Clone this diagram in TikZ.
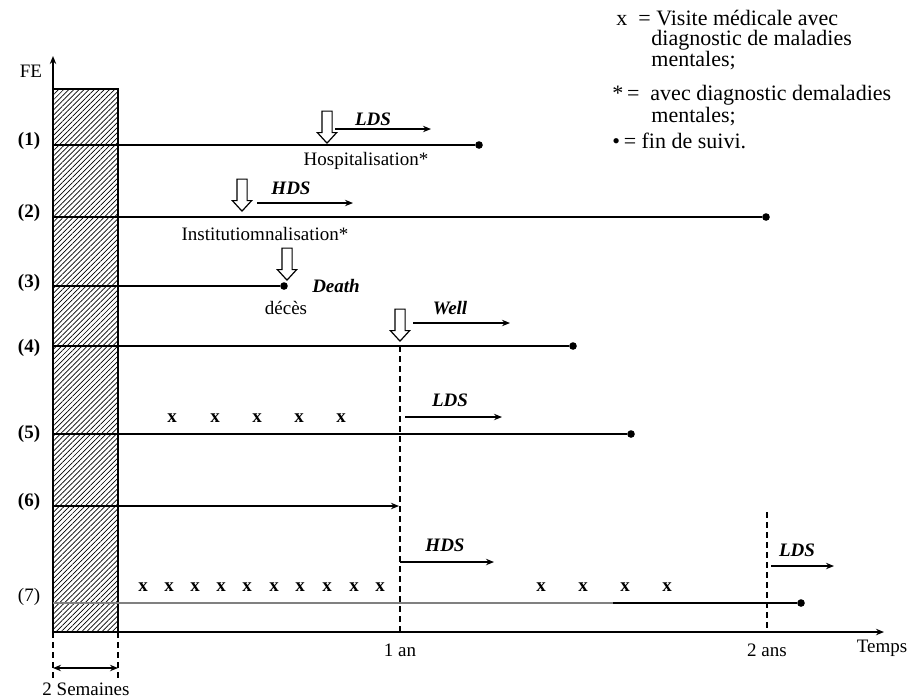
\documentclass[tikz,border=0pt]{standalone}
\usepackage{fontspec}
\setmainfont{Liberation Serif}
\usepackage{tikz}
\usetikzlibrary{arrows.meta, positioning, shapes.arrows, patterns.meta}

\begin{document}
\begin{tikzpicture}[x=0.5pt,y=-0.5pt]
\fontsize{9.5}{11}\selectfont
\tikzset{
  ln/.style={line width=0.7pt,draw=black},
  ar/.style={-{Stealth[length=4pt,width=3.2pt]},line width=0.6pt,draw=black},
  dot/.style={circle,fill=black,inner sep=0pt,minimum size=3.8pt},
  hol/.style={single arrow,draw=black,fill=white,line width=0.6pt,shape border rotate=270,minimum height=16pt,single arrow head extend=2.25pt,single arrow tip angle=85,inner sep=2.25pt},
  dsh/.style={line width=0.6pt,dash pattern=on 3pt off 2pt},
  rl/.style={font=\bfseries,inner sep=0pt},
  st/.style={font=\bfseries\itshape,inner sep=0pt},
  tx/.style={inner sep=0pt},
  xm/.style={font=\bfseries,inner sep=0pt},
  lg/.style={font=\fontsize{11}{12}\selectfont,inner sep=0pt,anchor=west}
}
\useasboundingbox (0,0) rectangle (909,698);

% axes and hatched window
\coordinate (O) at (53,632);
\coordinate (ytop) at (53,56);
\coordinate (xend) at (884,632);
\coordinate (w0) at (118,632);
\draw[ln,pattern={Lines[angle=45,distance=1.8pt,line width=0.35pt]}] (53,89) rectangle (w0);
\draw[ln,-{Stealth[length=4pt,width=3.2pt]}] (O) -- (ytop);
\draw[ln,-{Stealth[length=4pt,width=3.2pt]}] (O) -- (xend);
\node[tx] (fe) at (31,71) {FE};
\node[tx] (temps) at (882,648) {Temps};
\node[tx] (an1) at (400,650) {1 an};
\node[tx] (an2) at (767,650) {2 ans};

% rows
\foreach \n/\y in {1/145,2/217,3/286,4/346,5/434,6/506,7/603}{
  \coordinate (s\n) at (53,\y);
}
\foreach \n/\y in {1/141,2/213,3/283,4/348,5/434,6/502}{
  \node[rl] (l\n) at (29,\y) {(\n)};
}
\node[tx] (l7) at (29,597) {(7)};

\node[dot] (e1) at (479,145) {};
\node[dot] (e2) at (766,217) {};
\node[dot] (e3) at (284,286) {};
\node[dot] (e4) at (573,346) {};
\node[dot] (e5) at (631,434) {};
\coordinate (e6) at (399,506);
\coordinate (g7) at (613,603);
\node[dot] (e7) at (801,603) {};
\foreach \n in {1,2,3,4,5}{\draw[ln] (s\n) -- (e\n);}
\draw[ar,line width=0.7pt] (s6) -- (e6);
\draw[ln,draw=black!50] (s7) -- (g7);
\draw[ln] (g7) -- (e7);

% row 1
\node[hol,anchor=tip] (h1) at (327,144) {};
\coordinate (p1a) at (335,129);
\coordinate (p1b) at (431,129);
\draw[ar] (p1a) -- (p1b);
\node[st] (t1) at (373,119) {LDS};
\node[tx] (c1) at (366,161) {Hospitalisation*};

% row 2
\node[hol,anchor=tip] (h2) at (242,212) {};
\coordinate (p2a) at (257,203);
\coordinate (p2b) at (353,203);
\draw[ar] (p2a) -- (p2b);
\node[st] (t2) at (291,188) {HDS};
\node[tx] (c2) at (265,234) {Institutiomnalisation*};

% row 3
\node[hol,anchor=tip] (h3) at (287,281) {};
\node[st] (t3) at (336,286) {Death};
\node[tx] (c3) at (286,308) {décès};

% row 4
\node[hol,anchor=tip] (h4) at (400,342) {};
\coordinate (p4a) at (413,323);
\coordinate (p4b) at (510,323);
\draw[ar] (p4a) -- (p4b);
\node[st] (t4) at (450,308) {Well};
\coordinate (d1) at (400,346);
\draw[dsh] (d1) -- (an1.north |- O);

% row 5
\foreach \x in {172,215,257,299,341}{\node[xm] at (\x,418) {x};}
\coordinate (p5a) at (405,417);
\coordinate (p5b) at (502,417);
\draw[ar] (p5a) -- (p5b);
\node[st] (t5) at (450,400) {LDS};

% row 7
\foreach \x in {143,169,195,221,247,274,300,327,354,380,541,583,625,667}{\node[xm] at (\x,587) {x};}
\coordinate (p7a) at (400,562);
\coordinate (p7b) at (494,562);
\draw[ar] (p7a) -- (p7b);
\node[st] (t7) at (445,545) {HDS};
\coordinate (d2) at (767,512);
\draw[dsh] (d2) -- (an2.north |- O);
\coordinate (p8a) at (771,566);
\coordinate (p8b) at (834,566);
\draw[ar] (p8a) -- (p8b);
\node[st] (t8) at (797,550) {LDS};

% two weeks
\coordinate (b0) at (53,678);
\coordinate (b1) at (118,678);
\draw[dsh] (O) -- (b0);
\draw[dsh] (w0) -- (b1);
\coordinate (k0) at (53,668);
\coordinate (k1) at (118,668);
\draw[{Stealth[length=4pt,width=3.2pt]}-{Stealth[length=4pt,width=3.2pt]},line width=0.6pt] (k0) -- (k1);
\node[tx] (sem) at (86,689) {2 Semaines};

% legend
\node[lg] (g1) at (616,18) {x\enspace= Visite médicale avec};
\node[lg] (g2) at (651,40) {diagnostic de maladies};
\node[lg] (g3) at (651,61) {mentales;};
\node[lg] (g4) at (612,95) {*\,=\enspace avec diagnostic demaladies};
\node[lg] (g5) at (651,117) {mentales;};
\node[lg] (g6) at (612,141) {•\,= fin de suivi.};
\end{tikzpicture}
\end{document}
